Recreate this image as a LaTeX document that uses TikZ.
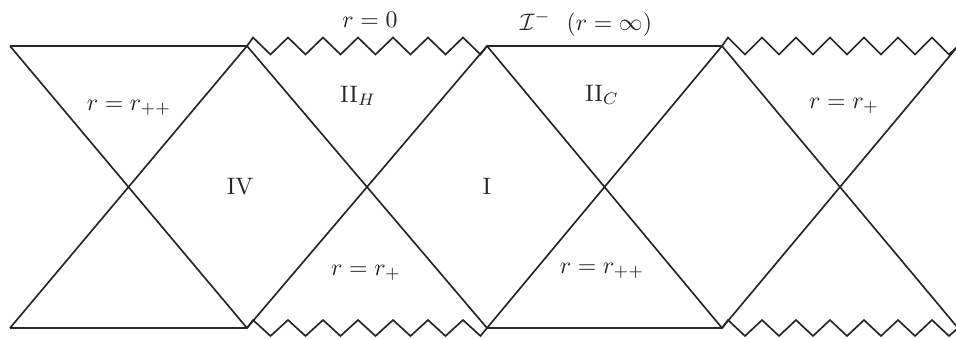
\documentclass[tikz,border=0pt]{standalone}
\begin{document}
\begin{tikzpicture}[x=0.42pt,y=-0.42pt,
  edge/.style={line width=0.7pt,draw=black!85,line join=miter},
  lbl/.style={anchor=base,inner sep=0pt,text=black!85}]
\clip (0,0) rectangle (956,338);
\fill[white] (0,0) rectangle (956,338);
% vertices
\coordinate (t0) at (10,46);  \coordinate (b0) at (10,328);
\coordinate (t1) at (247,46); \coordinate (b1) at (247,328);
\coordinate (t2) at (487,46); \coordinate (b2) at (487,328);
\coordinate (t3) at (722,46); \coordinate (b3) at (722,328);
\coordinate (t4) at (958,46); \coordinate (b4) at (958,328);
% horizontal boundaries
\draw[edge] (t0) -- (t1);
\draw[edge] (t2) -- (t3);
\draw[edge] (b0) -- (b1);
\draw[edge] (b2) -- (b3);
% diagonals
\draw[edge] (t0) -- (b1) -- (t2) -- (b3) -- (t4);
\draw[edge] (b0) -- (t1) -- (b2) -- (t3) -- (b4);
% singularities (zigzags)
\draw[edge] (t1) -- (253,37.5) -- (270.5,54.5) -- (288,37.5) -- (305.5,54.5) -- (323,37.5) -- (340.5,54.5) -- (358,37.5) -- (375.5,54.5) -- (393,37.5) -- (410.5,54.5) -- (428,37.5) -- (445.5,54.5) -- (463,37.5) -- (480.5,54.5) -- (t2);
\draw[edge] (b1) -- (253,320) -- (270.5,336) -- (288,320) -- (305.5,336) -- (323,320) -- (340.5,336) -- (358,320) -- (375.5,336) -- (393,320) -- (410.5,336) -- (428,320) -- (445.5,336) -- (463,320) -- (480.5,336) -- (b2);
\draw[edge] (t3) -- (728,37.5) -- (745,54.5) -- (762,37.5) -- (779,54.5) -- (796,37.5) -- (813,54.5) -- (830,37.5) -- (847,54.5) -- (864,37.5) -- (881,54.5) -- (898,37.5) -- (915,54.5) -- (932,37.5) -- (949,54.5) -- (t4);
\draw[edge] (b3) -- (728,320) -- (745,336) -- (762,320) -- (779,336) -- (796,320) -- (813,336) -- (830,320) -- (847,336) -- (864,320) -- (881,336) -- (898,320) -- (915,336) -- (932,320) -- (949,336) -- (b4);
% labels
\node[lbl] (rzero) at (370,27) {$r=0$};
\node[lbl] (scri) at (586,30) {$\mathcal{I}^-\ \ (r=\infty)$};
\node[lbl] (rppA) at (129,110) {$r=r_{++}$};
\node[lbl] (IIH) at (358,102) {$\mathrm{II}_H$};
\node[lbl] (IIC) at (602,101) {$\mathrm{II}_C$};
\node[lbl] (rpA) at (844,108) {$r=r_{+}$};
\node[lbl] (IV) at (240,194) {IV};
\node[lbl] (I) at (487,194) {I};
\node[lbl] (rpB) at (366,275) {$r=r_{+}$};
\node[lbl] (rppB) at (602,273) {$r=r_{++}$};
\end{tikzpicture}
\end{document}
